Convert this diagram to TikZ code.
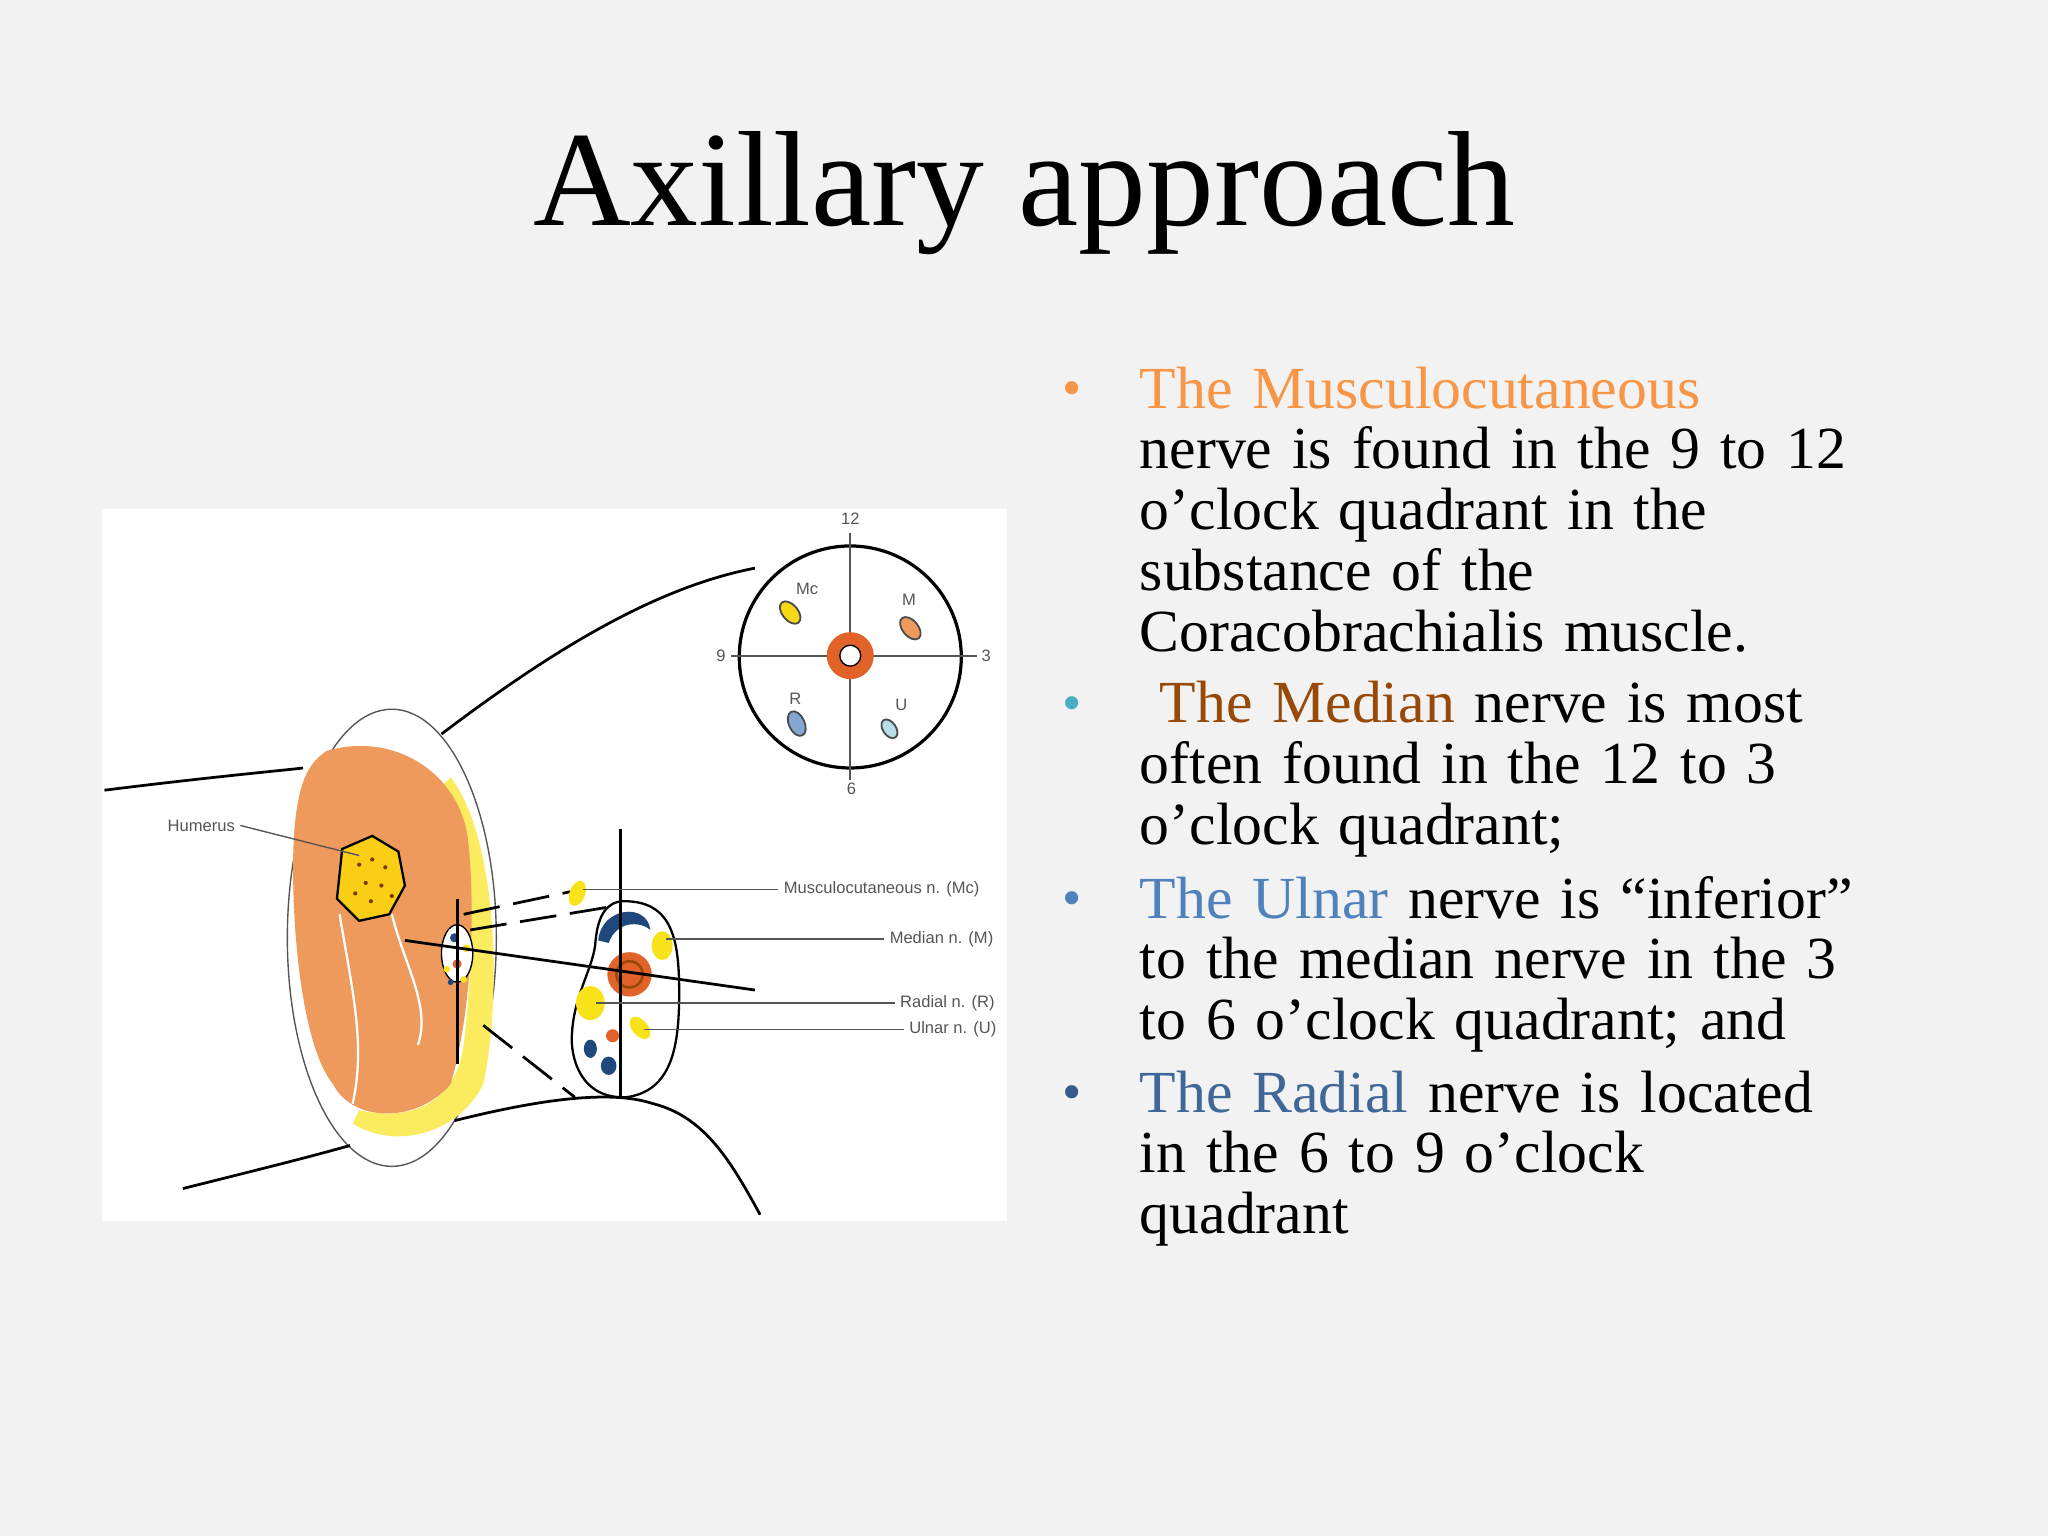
\documentclass[tikz,border=0pt]{standalone}
\usepackage{fontspec}
\setmainfont{Liberation Serif}
\newfontfamily\lblfont{Liberation Sans}
\definecolor{bg}{HTML}{F2F2F2}
\definecolor{orng}{HTML}{F79646}
\definecolor{brn}{HTML}{984807}
\definecolor{blu}{HTML}{4F81BD}
\definecolor{tealb}{HTML}{4BACC6}
\definecolor{dblue}{HTML}{1F497D}
\definecolor{musc}{HTML}{EE9A5C}
\definecolor{ylw}{HTML}{F8E21A}
\definecolor{nred}{HTML}{E2632A}
\definecolor{lbl}{HTML}{555555}
\begin{document}
\begin{tikzpicture}[x=0.01cm,y=-0.01cm,
  lab/.style={font=\lblfont\fontsize{3.6}{4}\selectfont,text=lbl,inner sep=1pt},
  body/.style={font=\fontsize{13}{13.25}\selectfont,align=left,anchor=north west,text width=7.2cm,inner sep=0pt},
  bul/.style={font=\fontsize{12}{12}\selectfont,inner sep=0pt},
  ln/.style={black,line width=0.6pt},
  dsh/.style={black,line width=0.6pt,dash pattern=on 8pt off 3pt},
  thin/.style={lbl,line width=0.3pt}]
\fill[bg] (0,0) rectangle (1568,1176);
\useasboundingbox (0,0) rectangle (1568,1176);
\node[font=\fontsize{29.5}{32}\selectfont] (title) at (784,148) {Axillary approach};
% image panel
\fill[white] (78,390) rectangle (771,935);
% muscle cross-section
\draw[lbl,line width=0.3pt,fill=white] (300,718) ellipse [x radius=80,y radius=175];
% body outlines
\draw[ln] (80,605) .. controls (160,595) and (215,590) .. (232,588);
\draw[ln] (338,562) .. controls (420,500) and (500,450) .. (578,435);
\draw[ln] (140,910) .. controls (200,895) and (240,885) .. (268,877);
\draw[ln] (348,858) .. controls (420,840) and (470,835) .. (500,845) .. controls (540,855) and (560,890) .. (582,930);
\fill[ylw!70] (345,595) .. controls (380,640) and (385,760) .. (370,830) .. controls (350,870) and (300,880) .. (270,860) -- (275,850) .. controls (320,860) and (350,840) .. (355,800) .. controls (365,720) and (360,650) .. (340,600) -- cycle;
\fill[musc] (250,575) .. controls (300,560) and (350,590) .. (358,640) .. controls (365,700) and (360,780) .. (345,830) .. controls (320,860) and (270,860) .. (255,830) .. controls (230,800) and (222,700) .. (225,640) .. controls (228,600) and (235,585) .. (250,575) -- cycle;
\draw[white,line width=0.5pt] (260,700) .. controls (270,760) and (280,800) .. (270,845);
\draw[white,line width=0.5pt] (300,700) .. controls (310,740) and (330,770) .. (320,800);
% humerus
\draw[black,line width=0.5pt,fill=ylw!80!orange] (262,650) -- (285,640) -- (305,652) -- (310,678) -- (298,700) -- (275,705) -- (258,688) -- cycle;
\foreach \p in {(275,662),(285,658),(295,664),(280,676),(292,678),(272,684),(300,686),(284,690)} \fill[brn!80!black] \p circle (1.6);
% small bundle
\draw[black,line width=0.3pt,fill=white] (350,730) ellipse [x radius=12,y radius=22];
\fill[dblue] (348,718) circle (3.5); \fill[ylw] (357,726) circle (3); \fill[nred] (350,738) circle (3.5);
\fill[ylw] (342,742) circle (2.5); \fill[dblue] (345,752) circle (2.2); \fill[ylw] (355,750) circle (2.5);
\draw[ln] (350,688) -- (350,815);
% dashed zoom lines
\draw[dsh] (355,700) -- (440,682);
\draw[dsh] (360,712) -- (475,693);
\draw[dsh] (370,785) -- (440,840);
% inset
\draw[black,line width=0.5pt,fill=white] (478,690) .. controls (515,690) and (520,720) .. (520,760) .. controls (520,800) and (515,835) .. (480,840) .. controls (445,842) and (436,810) .. (438,790) .. controls (440,760) and (455,740) .. (456,720) .. controls (458,700) and (465,690) .. (478,690) -- cycle;
\fill[dblue] (458,720) .. controls (460,695) and (495,690) .. (498,712) .. controls (490,705) and (472,705) .. (466,722) -- cycle;
\fill[ylw] (507,724) ellipse [x radius=8,y radius=11];
\fill[ylw] (452,768) ellipse [x radius=11,y radius=13];
\fill[ylw,rotate around={40:(490,787)}] (490,787) ellipse [x radius=6,y radius=10];
\fill[nred] (469,793) circle (5);
\fill[dblue] (452,803) ellipse [x radius=5,y radius=7];
\fill[dblue] (466,816) ellipse [x radius=6,y radius=7];
\fill[nred] (482,746) circle (17); \fill[brn] (482,746) circle (11); \fill[nred] (482,746) circle (9);
\draw[ln] (475,635) -- (475,840);
\draw[ln] (310,720) -- (578,758);
% yellow Mc in gap
\fill[ylw,rotate around={-20:(442,684)}] (442,684) ellipse [x radius=6,y radius=10];
% labels
\node[lab,anchor=east] (hum) at (184,632) {Humerus};
\draw[thin] (hum.east) -- (275,655);
\node[lab,anchor=west] (mc) at (596,681) {Musculocutaneous n. (Mc)};
\draw[thin] (mc.west) -- (446,681);
\node[lab,anchor=west] (md) at (677,719) {Median n. (M)};
\draw[thin] (md.west) -- (510,719);
\node[lab,anchor=west] (rd) at (685,768) {Radial n. (R)};
\draw[thin] (rd.west) -- (456,768);
\node[lab,anchor=west] (ul) at (692,788) {Ulnar n. (U)};
\draw[thin] (ul.west) -- (493,788);
% clock
\draw[black,line width=0.7pt] (651,503) circle (85);
\draw[lbl,line width=0.4pt] (651,408) -- (651,597) (560,502) -- (748,502);
\node[lab] (c12) at (651,397) {12};
\node[lab] (c9) at (552,502) {9};
\node[lab] (c3) at (755,502) {3};
\node[lab] (c6) at (652,604) {6};
\fill[nred] (651,502) circle (18); \fill[white] (651,502) circle (8); \draw[black,line width=0.3pt] (651,502) circle (8);
\draw[black!70,fill=ylw!90!orange,rotate around={40:(605,469)}] (605,469) ellipse [x radius=6,y radius=10];
\draw[black!70,fill=musc,rotate around={40:(697,481)}] (697,481) ellipse [x radius=6,y radius=10];
\draw[black!70,fill=blu!70,rotate around={25:(610,554)}] (610,554) ellipse [x radius=6,y radius=10];
\draw[black!70,fill=tealb!40,rotate around={35:(681,558)}] (681,558) ellipse [x radius=5,y radius=8];
\node[lab] (lmc) at (618,451) {Mc};
\node[lab] (lm) at (696,459) {M};
\node[lab] (lr) at (609,535) {R};
\node[lab] (lu) at (690,540) {U};
% bullets
\node[bul,text=orng] (b1) at (821,302) {•};
\node[body] (t1) at (872,280) {\textcolor{orng}{The Musculocutaneous}\\ nerve is found in the 9 to 12\\ o’clock quadrant in the\\ substance of the\\ Coracobrachialis muscle.};
\node[bul,text=tealb] (b2) at (821,543) {•};
\node[body] (t2) at (872,521) {\ \textcolor{brn}{The Median} nerve is most\\ often found in the 12 to 3\\ o’clock quadrant;};
\node[bul,text=blu] (b3) at (821,692) {•};
\node[body] (t3) at (872,670) {\textcolor{blu}{The Ulnar} nerve is “inferior”\\ to the median nerve in the 3\\ to 6 o’clock quadrant; and};
\node[bul,text=dblue!90] (b4) at (821,841) {•};
\node[body] (t4) at (872,819) {\textcolor{blu!80!black}{The Radial} nerve is located\\ in the 6 to 9 o’clock\\ quadrant};
\end{tikzpicture}
\end{document}
